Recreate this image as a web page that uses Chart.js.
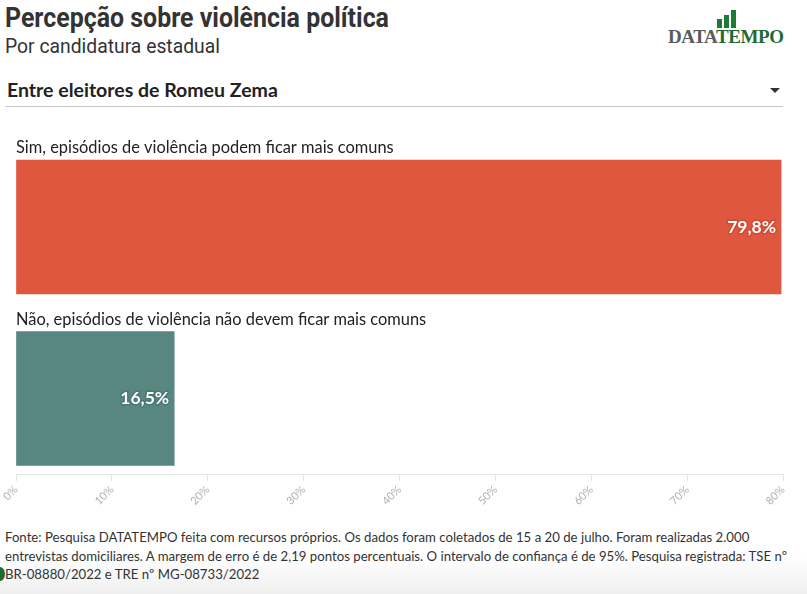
<!DOCTYPE html>
<html>
<head>
<meta charset="utf-8">
<script src="https://cdn.jsdelivr.net/npm/chart.js@4/dist/chart.umd.min.js"></script>
<style>
  html, body { margin: 0; padding: 0; }
  body { width: 807px; height: 594px; position: relative; overflow: hidden; background: #fff; font-family: Lato, sans-serif; color: #222; }
  .title { position: absolute; left: 5px; top: 1px; font-family: Roboto, sans-serif; font-weight: 700; font-size: 28px; color: #333; transform: scaleX(0.89); transform-origin: left top; white-space: nowrap; }
  .subtitle { position: absolute; left: 5px; top: 34px; font-family: Roboto, sans-serif; font-size: 21px; color: #333; transform: scaleX(0.92); transform-origin: left top; white-space: nowrap; }
  .logo { position: absolute; left: 668px; top: 8px; width: 116px; }
  .logo .bars { position: absolute; left: 49px; top: 2px; width: 20px; height: 18px; }
  .logo .bars span { position: absolute; bottom: 0; width: 5px; background: #1f7a36; }
  .logo .word { position: absolute; left: 0; top: 18px; font-family: "Liberation Serif", serif; font-weight: 700; font-size: 19px; letter-spacing: -0.4px; white-space: nowrap; }
  .logo .word .a { color: #5b5b5b; }
  .logo .word .b { color: #1f6b32; }
  .select { position: absolute; left: 5px; top: 78px; width: 778px; height: 28px; border-bottom: 1px solid #c8c8c8; }
  .select .txt { position: absolute; left: 2px; top: 0px; font-weight: 700; font-size: 19.5px; color: #222; }
  .select .arrow { position: absolute; right: 3px; top: 10px; width: 0; height: 0; border-left: 5px solid transparent; border-right: 5px solid transparent; border-top: 5px solid #333; }
  #wrap { position: absolute; left: 0; top: 120px; width: 807px; height: 400px; }
  .foot { position: absolute; left: 5px; top: 528px; width: 802px; font-size: 13.2px; line-height: 18.5px; color: #333; white-space: nowrap; }
  .shade { position: absolute; left: 0; top: 556px; width: 807px; height: 38px; background: linear-gradient(#ffffff, #efefef); }
  .dot { position: absolute; left: -5px; top: 567px; width: 10px; height: 14px; border-radius: 50%; background: #1f6b32; }
</style>
</head>
<body>
<div class="shade"></div>
<div class="title">Percepção sobre violência política</div>
<div class="subtitle">Por candidatura estadual</div>
<div class="logo">
  <div class="bars"><span style="left:0;height:9px"></span><span style="left:7px;height:13px"></span><span style="left:14px;height:18px"></span></div>
  <div class="word"><span class="a">DATA</span><span class="b">TEMPO</span></div>
</div>
<div class="select"><div class="txt">Entre eleitores de Romeu Zema</div><div class="arrow"></div></div>
<div id="wrap"><canvas id="chart"></canvas></div>
<div class="foot">Fonte: Pesquisa DATATEMPO feita com recursos próprios. Os dados foram coletados de 15 a 20 de julho. Foram realizadas 2.000<br>entrevistas domiciliares. A margem de erro é de 2,19 pontos percentuais. O intervalo de confiança é de 95%. Pesquisa registrada: TSE nº<br>BR-08880/2022 e TRE nº MG-08733/2022</div>
<div class="dot"></div>
<script>
const categories = [
  'Sim, episódios de violência podem ficar mais comuns',
  'Não, episódios de violência não devem ficar mais comuns'
];
const values = [79.8, 16.5];
const barColors = ['#E0573F', '#588782'];
const tickValues = [0, 10, 20, 30, 40, 50, 60, 70, 80];

const labelsPlugin = {
  id: 'barLabels',
  afterDatasetsDraw(chart) {
    const ctx = chart.ctx;
    const meta = chart.getDatasetMeta(0);
    const left = chart.chartArea.left;
    meta.data.forEach((bar, i) => {
      const top = bar.y - bar.height / 2;
      ctx.save();
      ctx.font = '16.4px Lato, sans-serif';
      ctx.fillStyle = '#222';
      ctx.textAlign = 'left';
      ctx.textBaseline = 'alphabetic';
      ctx.fillText(categories[i], left, top - 7);
      const txt = values[i].toFixed(1).replace('.', ',') + '%';
      ctx.font = 'bold 17.5px Lato, sans-serif';
      ctx.textAlign = 'right';
      ctx.textBaseline = 'middle';
      ctx.lineWidth = 3;
      ctx.lineJoin = 'round';
      ctx.strokeStyle = i === 0 ? '#cf4a33' : '#4a7771';
      ctx.strokeText(txt, bar.x - 5, bar.y);
      ctx.fillStyle = '#fff';
      ctx.fillText(txt, bar.x - 5, bar.y);
      ctx.restore();
    });
  }
};

new Chart(document.getElementById('chart'), {
  type: 'bar',
  data: {
    datasets: [{
      data: values.map((v, i) => ({ x: v, y: i })),
      backgroundColor: barColors,
      borderWidth: 0,
      barThickness: 134
    }]
  },
  options: {
    indexAxis: 'y',
    responsive: true,
    maintainAspectRatio: false,
    animation: false,
    layout: { padding: { top: 12, left: 16, right: 24, bottom: 0 } },
    plugins: { legend: { display: false }, tooltip: { enabled: false } },
    scales: {
      y: { type: 'linear', display: false, offset: false, grace: 0, reverse: true, min: -0.554, max: 1.44 },
      x: {
        type: 'linear', min: 0, max: 80, offset: false,
        afterBuildTicks: s => { s.ticks = tickValues.map(v => ({ value: v })); },
        afterFit: s => { s.height = 46; s.paddingLeft = 0; s.paddingRight = 0; },
        grid: { drawOnChartArea: false, drawTicks: true, tickLength: 7, color: '#e6e6e6' },
        border: { display: true, color: '#e6e6e6' },
        ticks: {
          minRotation: 45, maxRotation: 45, padding: 2, color: '#b0b0b0',
          font: { family: 'Lato', size: 11 },
          callback: v => v + '%'
        }
      }
    }
  },
  plugins: [labelsPlugin]
});
</script>
</body>
</html>
